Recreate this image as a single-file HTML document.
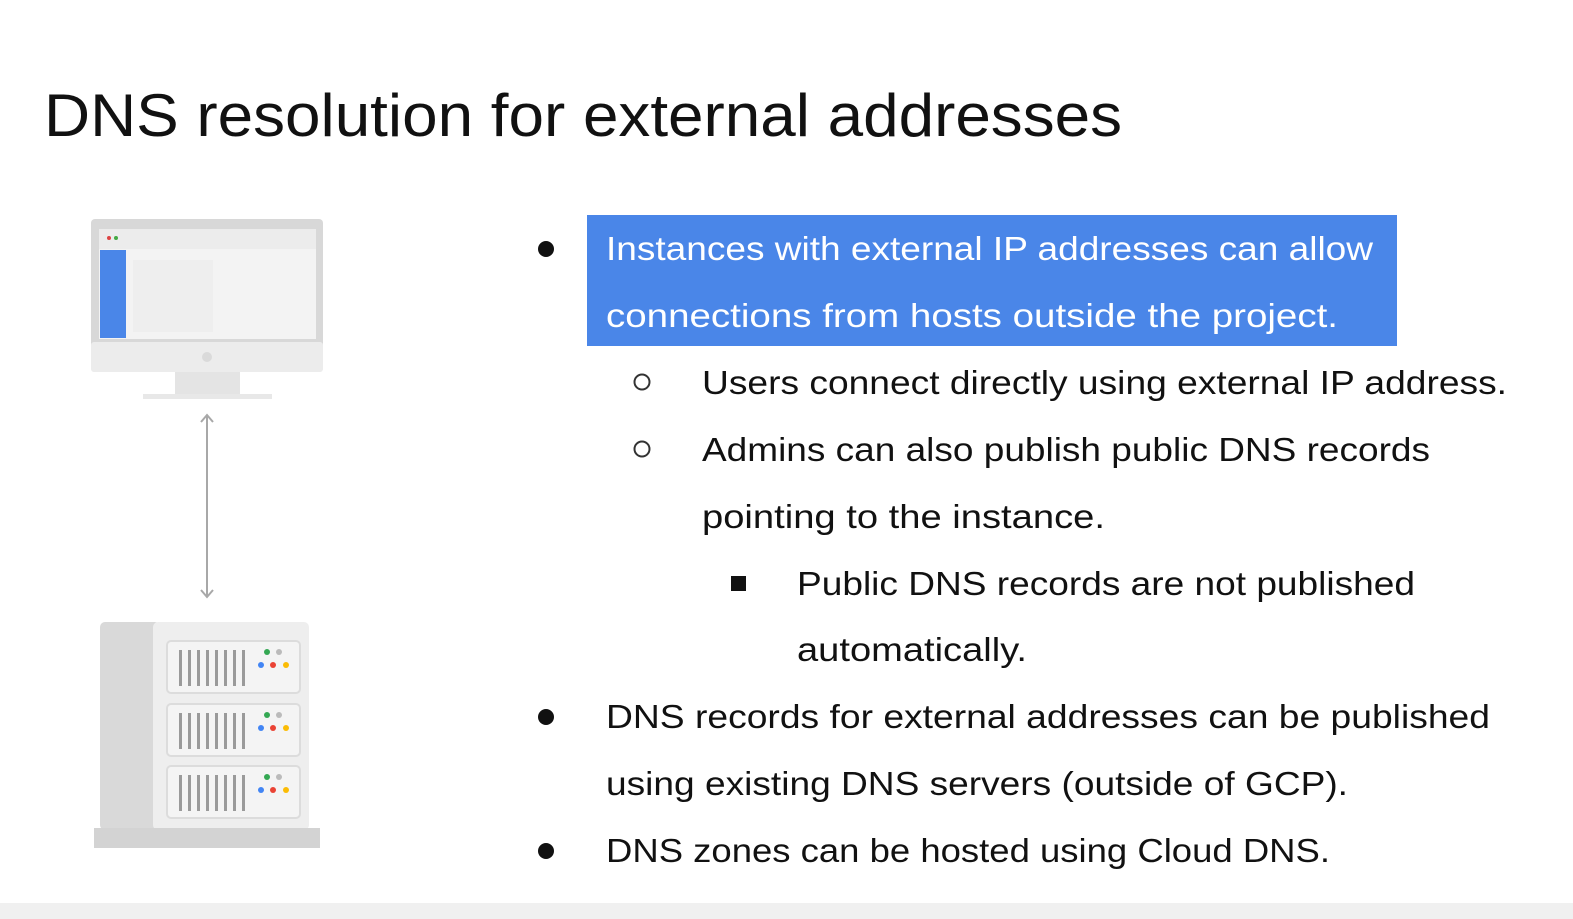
<!DOCTYPE html>
<html><head><meta charset="utf-8"><style>
html,body{margin:0;padding:0;background:#fff;}
svg{display:block;}
</style></head><body>
<svg width="1573" height="919" viewBox="0 0 1573 919" xmlns="http://www.w3.org/2000/svg" font-family="Liberation Sans, Arial, sans-serif">
<rect width="1573" height="919" fill="#fff"/>
<rect x="0" y="903" width="1573" height="16" fill="#f0f0f0"/>
<text x="44" y="136" font-size="60" textLength="1078" lengthAdjust="spacingAndGlyphs" fill="#111">DNS resolution for external addresses</text>

<!-- monitor -->
<rect x="91" y="219" width="232" height="153" rx="4" fill="#d8d8d8"/>
<rect x="91" y="342" width="232" height="30" rx="3" fill="#ececec"/>
<rect x="99" y="229" width="217" height="110" fill="#f3f3f3"/>
<rect x="99" y="229" width="217" height="20" fill="#ececec"/>
<circle cx="109" cy="238" r="2" fill="#d44"/><circle cx="116" cy="238" r="2" fill="#4a4"/>
<rect x="100" y="250" width="26" height="88" fill="#4a86e8"/>
<rect x="133" y="260" width="80" height="72" fill="#ebebeb" opacity="0.6"/>
<circle cx="207" cy="357" r="5" fill="#dadada"/>
<rect x="175" y="372" width="65" height="23" fill="#e4e4e4"/>
<rect x="143" y="394" width="129" height="5" fill="#e8e8e8"/>

<!-- arrow -->
<line x1="207" y1="416" x2="207" y2="596" stroke="#a8a8a8" stroke-width="2"/>
<polyline points="201,422 207,415 213,422" fill="none" stroke="#a8a8a8" stroke-width="2"/>
<polyline points="201,590 207,597 213,590" fill="none" stroke="#a8a8a8" stroke-width="2"/>

<!-- server -->
<rect x="100" y="622" width="60" height="208" rx="5" fill="#d9d9d9"/>
<rect x="153" y="622" width="156" height="208" rx="5" fill="#eeeeee"/>
<rect x="94" y="828" width="226" height="20" fill="#d3d3d3"/>
<g id="u">
<rect x="167" y="641" width="133" height="52" rx="4" fill="#f4f4f4" stroke="#dcdcdc" stroke-width="2"/>
<g fill="#9a9a9a">
<rect x="179" y="650" width="3" height="36"/><rect x="188" y="650" width="3" height="36"/><rect x="197" y="650" width="3" height="36"/><rect x="206" y="650" width="3" height="36"/><rect x="215" y="650" width="3" height="36"/><rect x="224" y="650" width="3" height="36"/><rect x="233" y="650" width="3" height="36"/><rect x="242" y="650" width="3" height="36"/>
</g>
<circle cx="267" cy="652" r="3" fill="#34a853"/><circle cx="279" cy="652" r="3" fill="#bbb"/>
<circle cx="261" cy="665" r="3" fill="#4285f4"/><circle cx="273" cy="665" r="3" fill="#ea4335"/><circle cx="286" cy="665" r="3" fill="#fbbc05"/>
</g>
<use href="#u" y="63"/>
<use href="#u" y="125"/>

<!-- highlight -->
<rect x="587" y="215" width="810" height="131" fill="#4a86e8"/>
<g font-size="33" fill="#111">
<circle cx="546" cy="249" r="8" fill="#111"/>
<text x="606" y="260" fill="#fff" textLength="767" lengthAdjust="spacingAndGlyphs">Instances with external IP addresses can allow</text>
<text x="606" y="327" fill="#fff" textLength="732" lengthAdjust="spacingAndGlyphs">connections from hosts outside the project.</text>
<circle cx="642" cy="382" r="7.5" fill="none" stroke="#333" stroke-width="2"/>
<text x="702" y="394" textLength="805" lengthAdjust="spacingAndGlyphs">Users connect directly using external IP address.</text>
<circle cx="642" cy="449" r="7.5" fill="none" stroke="#333" stroke-width="2"/>
<text x="702" y="461" textLength="728" lengthAdjust="spacingAndGlyphs">Admins can also publish public DNS records</text>
<text x="702" y="528" textLength="403" lengthAdjust="spacingAndGlyphs">pointing to the instance.</text>
<rect x="731" y="576" width="15" height="15" fill="#111"/>
<text x="797" y="595" textLength="618" lengthAdjust="spacingAndGlyphs">Public DNS records are not published</text>
<text x="797" y="661" textLength="230" lengthAdjust="spacingAndGlyphs">automatically.</text>
<circle cx="546" cy="717" r="8" fill="#111"/>
<text x="606" y="728" textLength="884" lengthAdjust="spacingAndGlyphs">DNS records for external addresses can be published</text>
<text x="606" y="795" textLength="742" lengthAdjust="spacingAndGlyphs">using existing DNS servers (outside of GCP).</text>
<circle cx="546" cy="851" r="8" fill="#111"/>
<text x="606" y="862" textLength="724" lengthAdjust="spacingAndGlyphs">DNS zones can be hosted using Cloud DNS.</text>
</g>
</svg>
</body></html>
